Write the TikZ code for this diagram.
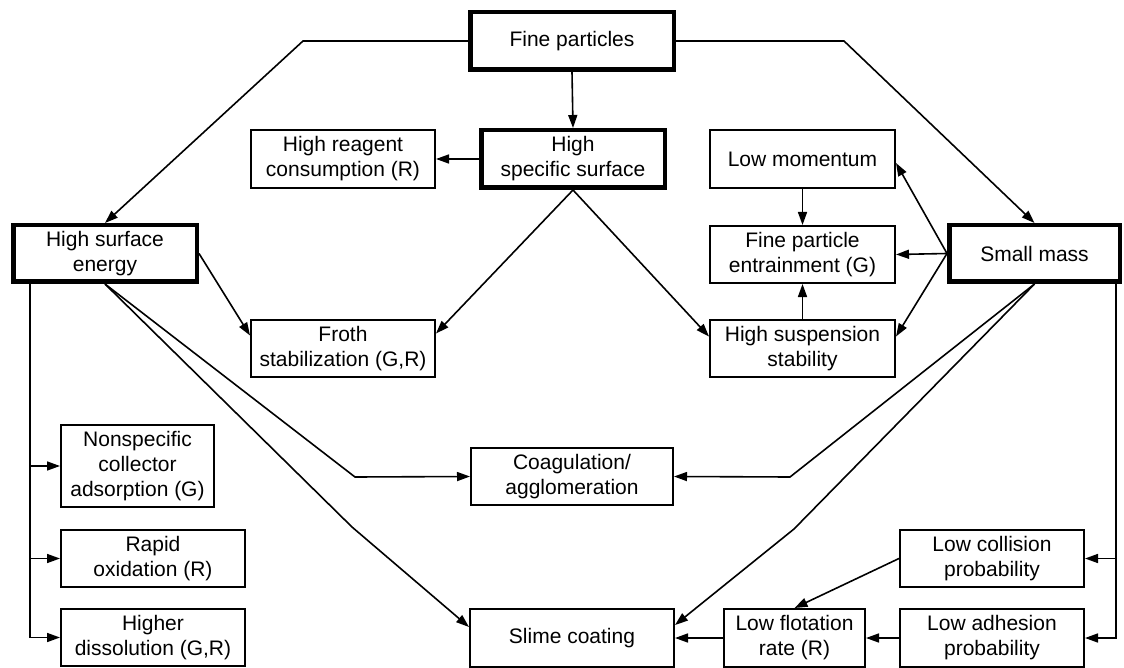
\documentclass[tikz,border=0pt]{standalone}
\usepackage{fontspec}
\setmainfont{Liberation Sans}
\usetikzlibrary{arrows.meta}

\begin{document}
\begin{tikzpicture}[
    x=1pt, y=-1pt,
    >={Triangle[length=13pt, width=9pt]},
    font=\fontsize{21}{25}\selectfont,
    effect/.style={draw, line width=2pt, inner sep=2pt, minimum width=184pt, minimum height=57pt, align=center},
    cause/.style={draw, line width=4.5pt, inner sep=2pt, minimum width=183.5pt, minimum height=56.5pt, align=center},
    wire/.style={line width=1.6pt, ->}
  ]
  \useasboundingbox (0,0) rectangle (1124,668);
  % main causes
  \node[cause, minimum width=203.5pt, minimum height=57.5pt] (fine) at (572,41) {Fine particles};
  \node[cause, minimum height=57.5pt] (hss) at (573,159) {High\\specific surface};
  \node[cause] (hse) at (105,253.5) {High surface\\energy};
  \node[cause, minimum width=170.5pt] (small) at (1034.5,253.5) {Small mass};
  % effects
  \node[effect, minimum height=58pt] (reagent) at (343,159) {High reagent\\consumption (R)};
  \node[effect] (froth) at (343,348.5) {Froth\\stabilization (G,R)};
  \node[effect, minimum width=185pt, minimum height=58pt] (lowmom) at (802.5,159) {Low momentum};
  \node[effect, minimum width=185pt] (entrain) at (802.5,254.5) {Fine particle\\entrainment (G)};
  \node[effect, minimum width=185pt] (susp) at (802.5,348.5) {High suspension\\stability};
  \node[effect, minimum width=153pt, minimum height=82pt] (nonspec) at (137.5,466) {Nonspecific\\collector\\adsorption (G)};
  \node[effect] (rapid) at (153,558.5) {Rapid\\oxidation (R)};
  \node[effect] (dissol) at (153,637.5) {Higher\\dissolution (G,R)};
  \node[effect, minimum width=202pt] (coag) at (572,476.5) {Coagulation/\\agglomeration};
  \node[effect, minimum width=204pt, minimum height=58pt] (slime) at (572,638) {Slime coating};
  \node[effect, minimum width=141pt, minimum height=58pt] (lowflot) at (794.5,638) {Low flotation\\rate (R)};
  \node[effect] (collision) at (992,558.5) {Low collision\\probability};
  \node[effect, minimum height=58pt] (adhesion) at (992,638) {Low adhesion\\probability};
  % bends
  \coordinate (kinkL) at (303,41);
  \coordinate (kinkR) at (844,41);
  \coordinate (coagL) at (355,477);
  \coordinate (slimeL) at (352,527);
  \coordinate (coagR) at (790,477);
  \coordinate (slimeR) at (794,529);
  % connectors
  \draw[wire] (fine.west) -- (kinkL) -- (hse.north);
  \draw[wire] (fine.east) -- (kinkR) -- (small.north);
  \draw[wire] (fine.south) -- (hss.north);
  \draw[wire] (hss.west) -- (reagent.east);
  \draw[wire] (hss.south) -- ([yshift=15pt]froth.east);
  \draw[wire] (hss.south) -- ([yshift=12pt]susp.west);
  \draw[wire] (hse.east) -- ([yshift=13pt]froth.west);
  \draw[wire] (lowmom.south) -- (entrain.north);
  \draw[wire] (susp.north) -- (entrain.south);
  \draw[wire] (small.west) -- (entrain.east);
  \draw[wire] (small.west) -- ([yshift=-4pt]lowmom.east);
  \draw[wire] (small.west) -- ([yshift=12pt]susp.east);
  \draw[wire] (hse.south) -- (coagL) -- (coag.west);
  \draw[wire] (hse.south) -- (slimeL) -- ([yshift=11pt]slime.west);
  \draw[wire] (small.south) -- (coagR) -- (coag.east);
  \draw[wire] (small.south) -- (slimeR) -- ([yshift=13pt]slime.east);
  \draw[wire] ([xshift=19pt]hse.south west) |- (nonspec.west);
  \draw[wire] ([xshift=19pt]hse.south west) |- (rapid.west);
  \draw[wire] ([xshift=19pt]hse.south west) |- (dissol.west);
  \draw[wire] ([xshift=-6pt]small.south east) |- (collision.east);
  \draw[wire] ([xshift=-6pt]small.south east) |- (adhesion.east);
  \draw[wire] (collision.west) -- (lowflot.north);
  \draw[wire] (adhesion.west) -- (lowflot.east);
  \draw[wire] (lowflot.west) -- (slime.east);
\end{tikzpicture}
\end{document}
